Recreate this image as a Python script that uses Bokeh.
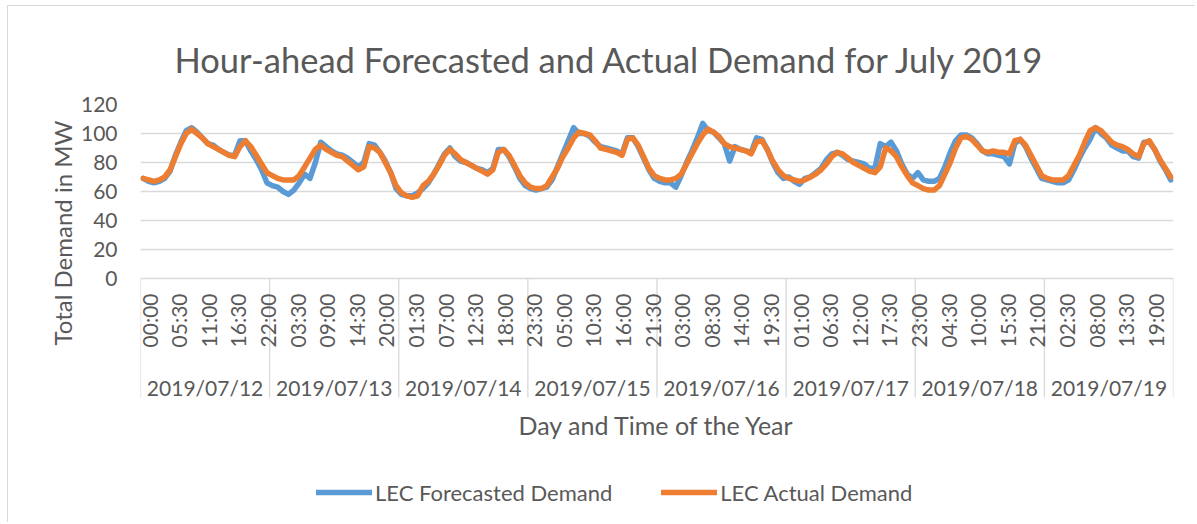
import math
from bokeh.plotting import figure
from bokeh.models import (Range1d, FixedTicker, Legend, LegendItem, Title, Label)
from bokeh.core.properties import value
from bokeh.embed import file_html
from bokeh.resources import INLINE

# ---------------- data ----------------
days = ["2019/07/12", "2019/07/13", "2019/07/14", "2019/07/15",
        "2019/07/16", "2019/07/17", "2019/07/18", "2019/07/19"]

time_labels = ["00:00", "05:30", "11:00", "16:30", "22:00",
               "03:30", "09:00", "14:30", "20:00",
               "01:30", "07:00", "12:30", "18:00", "23:30",
               "05:00", "10:30", "16:00", "21:30",
               "03:00", "08:30", "14:00", "19:30",
               "01:00", "06:30", "12:00", "17:30", "23:00",
               "04:30", "10:00", "15:30", "21:00",
               "02:30", "08:00", "13:30", "19:00"]

# hourly actual demand (MW), 8 days x 24 h
actual = [
    69, 68, 67, 68, 70, 75, 84, 93, 100, 103, 100, 97, 93, 91, 89, 87, 85, 84, 91, 95, 91, 85, 79, 73,
    71, 69, 68, 68, 68, 71, 77, 83, 89, 92, 89, 87, 85, 84, 81, 78, 75, 77, 91, 90, 87, 80, 73, 64,
    59, 57, 56, 57, 64, 67, 72, 78, 85, 89, 86, 82, 80, 78, 76, 74, 72, 75, 87, 89, 85, 78, 71, 66,
    63, 62, 62, 64, 70, 76, 84, 90, 97, 101, 100, 99, 95, 90, 89, 88, 87, 85, 96, 97, 92, 84, 76, 71,
    69, 68, 68, 69, 72, 79, 86, 93, 99, 103, 101, 98, 93, 91, 90, 89, 88, 86, 94, 95, 89, 81, 75, 71,
    69, 68, 67, 68, 70, 72, 75, 79, 84, 87, 86, 83, 80, 78, 76, 74, 73, 77, 90, 88, 84, 77, 71, 66,
    64, 62, 61, 61, 64, 72, 80, 90, 97, 98, 96, 92, 88, 87, 88, 87, 87, 86, 95, 96, 92, 85, 78, 71,
    69, 68, 68, 68, 71, 78, 85, 94, 102, 104, 102, 98, 94, 92, 91, 89, 86, 84, 93, 95, 89, 82, 76, 70,
]

# hourly hour-ahead forecast (MW)
forecast = [
    69, 67, 66, 67, 69, 74, 85, 94, 102, 104, 101, 97, 93, 92, 89, 87, 85, 85, 95, 95, 88, 82, 75, 66,
    64, 63, 60, 58, 61, 66, 72, 69, 80, 94, 91, 88, 86, 85, 83, 80, 77, 80, 93, 92, 87, 81, 73, 62,
    58, 57, 57, 59, 62, 66, 72, 79, 86, 90, 84, 81, 80, 78, 76, 75, 73, 76, 89, 89, 84, 77, 69, 64,
    62, 61, 62, 63, 68, 77, 86, 95, 104, 100, 100, 98, 94, 91, 90, 89, 88, 86, 97, 97, 91, 83, 75, 69,
    67, 66, 66, 63, 71, 80, 88, 97, 107, 102, 101, 97, 93, 81, 91, 89, 88, 87, 97, 96, 89, 80, 73, 69,
    70, 67, 65, 69, 70, 73, 76, 82, 86, 87, 85, 82, 81, 80, 79, 76, 76, 93, 91, 94, 88, 79, 72, 69,
    73, 68, 67, 67, 69, 77, 87, 95, 99, 99, 97, 93, 88, 86, 86, 85, 84, 79, 93, 96, 91, 83, 76, 69,
    68, 67, 66, 66, 68, 75, 83, 90, 96, 104, 100, 97, 92, 90, 88, 88, 84, 83, 94, 94, 89, 81, 75, 68,
]

y_ticks = [0, 20, 40, 60, 80, 100, 120]

# ---------------- styling / layout (page pixels) ----------------
FONT = "Lato"
TXT = "#595959"
GRID = "#D9D9D9"
BLUE = "#5B9BD5"
ORANGE = "#ED7D31"

SLOTS_PER_DAY = 48          # half-hour slots
N_SLOTS = SLOTS_PER_DAY * len(days)
LABEL_STEP = 11             # one time label every 5.5 h

W, H = 1188, 517
CX, CY = 8, 6               # canvas origin on the page
FL, FR = 140, 1173          # frame left / right
PY_TOP, PY_ZERO = 104, 278  # pixel rows of 120 and 0
SCALE = (PY_ZERO - PY_TOP) / 120.0
FRAME_BOTTOM = CY + H


def ydata(py):
    return (PY_ZERO - py) / SCALE


x_pos = [2 * h + 1 for h in range(len(actual))]

p = figure(width=W, height=H, output_backend="svg", toolbar_location=None,
           x_range=Range1d(0, N_SLOTS),
           y_range=Range1d(ydata(FRAME_BOTTOM), 120),
           x_axis_type=None,
           min_border_left=FL - CX, min_border_right=W - (FR - CX),
           min_border_top=PY_TOP - CY, min_border_bottom=0)
p.styles = {"margin-left": "7px", "margin-top": "5px",
            "border-left": "1px solid #D9D9D9", "border-top": "1px solid #D9D9D9"}
p.outline_line_color = None
p.background_fill_color = "white"
p.border_fill_color = "white"

# title
p.title.text = "Hour-ahead Forecasted and Actual Demand for July 2019"
p.title.align = "left"
p.title.offset = 34
p.title.standoff = 50
p.title.text_font = FONT
p.title.text_font_size = "34.5px"
p.title.text_font_style = "normal"
p.title.text_color = TXT

# y axis
yt = FixedTicker(ticks=y_ticks)
p.yaxis.ticker = yt
p.yaxis.axis_line_color = None
p.yaxis.major_tick_line_color = None
p.yaxis.minor_tick_line_color = None
p.yaxis.major_tick_out = 0
p.yaxis.major_tick_in = 0
p.yaxis.major_label_text_font = FONT
p.yaxis.major_label_text_font_size = "21px"
p.yaxis.major_label_text_color = TXT
p.yaxis.major_label_standoff = 23
p.ygrid.ticker = yt
p.ygrid.grid_line_color = GRID
p.ygrid.grid_line_width = 1.3

ytitle = Title(text="Total Demand in MW", align="left", offset=FRAME_BOTTOM - 345,
               vertical_align="middle", standoff=0,
               text_font=FONT, text_font_size="24px", text_font_style="normal",
               text_color=TXT)
p.add_layout(ytitle, "left")

# category axis drawn below the zero line
tick_pos = [i * LABEL_STEP + 3.2 for i in range(len(time_labels))]
day_edges = [d * SLOTS_PER_DAY for d in range(len(days) + 1)]
day_pos = [d * SLOTS_PER_DAY + SLOTS_PER_DAY / 2 for d in range(len(days))]

p.segment(x0=day_edges, y0=[0] * len(day_edges), x1=day_edges,
          y1=[ydata(397)] * len(day_edges), line_color=GRID, line_width=1.3)
p.text(x=tick_pos, y=[ydata(293)] * len(tick_pos), text=time_labels,
       angle=math.pi / 2, text_align="right", text_baseline="middle",
       text_font=value(FONT), text_font_size="21px", text_color=TXT)
p.text(x=day_pos, y=[ydata(387)] * len(day_pos), text=days,
       text_align="center", text_baseline="middle",
       text_font=value(FONT), text_font_size="21px", text_color=TXT)
p.add_layout(Label(x=N_SLOTS / 2, y=ydata(424), text="Day and Time of the Year",
                   text_align="center", text_baseline="middle",
                   text_font=FONT, text_font_size="25px", text_color=TXT))

# series
rb = p.line(x_pos, forecast, line_color=BLUE, line_width=5.5,
            line_join="round", line_cap="round")
ro = p.line(x_pos, actual, line_color=ORANGE, line_width=5.5,
            line_join="round", line_cap="round")

legend = Legend(items=[LegendItem(label="LEC Forecasted Demand", renderers=[rb]),
                       LegendItem(label="LEC Actual Demand", renderers=[ro])],
                orientation="horizontal", location=(316 - FL, FRAME_BOTTOM - 492 - 15),
                glyph_width=56, glyph_height=30, label_height=30,
                label_standoff=3, spacing=49,
                padding=0, margin=0, border_line_color=None,
                background_fill_alpha=0,
                label_text_font=FONT, label_text_font_size="22px",
                label_text_color=TXT)
p.add_layout(legend, "center")

open("out.html", "w").write(file_html(p, INLINE))
